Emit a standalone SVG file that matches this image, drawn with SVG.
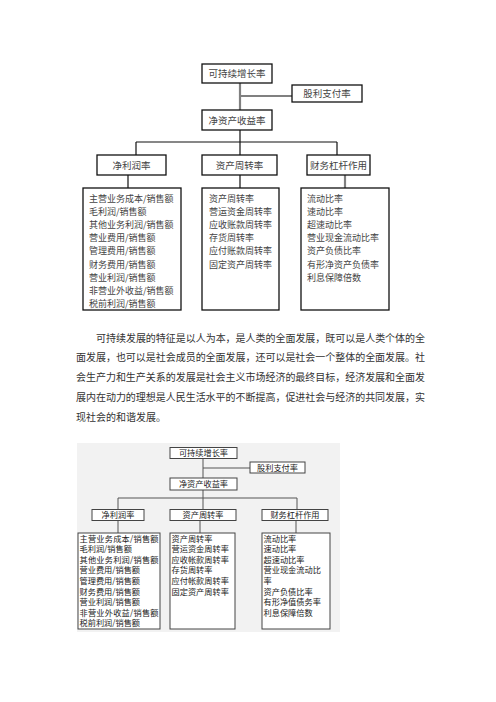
<svg xmlns="http://www.w3.org/2000/svg" width="496" height="702" viewBox="0 0 496 702">
<style>
.bx{fill:#fff;stroke:#111;stroke-width:1.3}
.t{font-family:"Noto Sans CJK SC","Noto Sans CJK JP",sans-serif;font-size:9px;fill:#444}
.tc{text-anchor:middle;font-size:9.5px}
.ln{stroke:#111;stroke-width:1.2;fill:none}
.lg{stroke:#808080;stroke-width:2.2;fill:none}
.p{font-family:"Noto Sans CJK SC","Noto Sans CJK JP",sans-serif;font-size:10px;fill:#333}
.bb{fill:#fff;stroke:#444;stroke-width:1}
.b{font-family:"Noto Sans CJK SC","Noto Sans CJK JP",sans-serif;font-size:8.2px;fill:#222}
.bc{text-anchor:middle}
.bl{stroke:#555;stroke-width:1;fill:none}
</style>
<rect width="496" height="702" fill="#fff"/>

<!-- top diagram connectors -->
<g id="top-connectors">
<path class="lg" d="M240 83V110M240 96H292"/>
<path class="ln" d="M240 130V142M136 142H337M136 142V155M240 142V155M337 142V155"/>
<path class="ln" d="M128 175V188M240 175V188"/>
<path class="lg" d="M345 175V188"/>
</g>

<g id="t-growth"><rect class="bx" x="202" y="64" width="70" height="19"/><text class="t tc" x="237" y="77">可持续增长率</text></g>
<g id="t-payout"><rect class="bx" x="292" y="85" width="70" height="17"/><text class="t tc" x="327" y="97">股利支付率</text></g>
<g id="t-roe"><rect class="bx" x="202" y="110" width="70" height="20"/><text class="t tc" x="237" y="123.5">净资产收益率</text></g>
<g id="t-npm"><rect class="bx" x="97" y="155" width="69" height="20"/><text class="t tc" x="131.5" y="168.5">净利润率</text></g>
<g id="t-ato"><rect class="bx" x="202" y="155" width="75" height="20"/><text class="t tc" x="239.5" y="168.5">资产周转率</text></g>
<g id="t-lev"><rect class="bx" x="307" y="155" width="63" height="20"/><text class="t tc" x="338.5" y="168.5">财务杠杆作用</text></g>

<g id="t-npm-detail"><rect class="bx" x="83" y="188" width="98" height="122"/>
<text class="t" x="89" y="201.5">主营业务成本/销售额</text>
<text class="t" x="89" y="214.7">毛利润/销售额</text>
<text class="t" x="89" y="227.9">其他业务利润/销售额</text>
<text class="t" x="89" y="241.1">营业费用/销售额</text>
<text class="t" x="89" y="254.3">管理费用/销售额</text>
<text class="t" x="89" y="267.5">财务费用/销售额</text>
<text class="t" x="89" y="280.7">营业利润/销售额</text>
<text class="t" x="89" y="293.9">非营业外收益/销售额</text>
<text class="t" x="89" y="307.1">税前利润/销售额</text>
</g>
<g id="t-ato-detail"><rect class="bx" x="202" y="188" width="77" height="122"/>
<text class="t" x="209" y="201.5">资产周转率</text>
<text class="t" x="209" y="214.7">营运资金周转率</text>
<text class="t" x="209" y="227.9">应收账款周转率</text>
<text class="t" x="209" y="241.1">存货周转率</text>
<text class="t" x="209" y="254.3">应付账款周转率</text>
<text class="t" x="209" y="267.5">固定资产周转率</text>
</g>
<g id="t-lev-detail"><rect class="bx" x="301" y="188" width="88" height="122"/>
<text class="t" x="307" y="201.5">流动比率</text>
<text class="t" x="307" y="214.7">速动比率</text>
<text class="t" x="307" y="227.9">超速动比率</text>
<text class="t" x="307" y="241.1">营业现金流动比率</text>
<text class="t" x="307" y="254.3">资产负债比率</text>
<text class="t" x="307" y="267.5">有形净资产负债率</text>
<text class="t" x="307" y="280.7">利息保障倍数</text>
</g>

<!-- paragraph -->
<g id="paragraph">
<text class="p" x="96" y="341.5" textLength="329" lengthAdjust="spacing">可持续发展的特征是以人为本，是人类的全面发展，既可以是人类个体的全</text>
<text class="p" x="76" y="361.3" textLength="349" lengthAdjust="spacing">面发展，也可以是社会成员的全面发展，还可以是社会一个整体的全面发展。社</text>
<text class="p" x="76" y="381.1" textLength="349" lengthAdjust="spacing">会生产力和生产关系的发展是社会主义市场经济的最终目标，经济发展和全面发</text>
<text class="p" x="76" y="400.9" textLength="349" lengthAdjust="spacing">展内在动力的理想是人民生活水平的不断提高，促进社会与经济的共同发展，实</text>
<text class="p" x="76" y="420.7">现社会的和谐发展。</text>
</g>

<!-- bottom diagram -->
<rect id="bottom-bg" x="77" y="443" width="263" height="189" fill="#f2f2f2"/>
<g id="bottom-connectors">
<path class="bl" d="M203 458V478M203 468H250M203 490V498M118 498H297M118 498V510M203 498V510M297 498V510M118 521V533M200 521V533M296 521V533"/>
</g>
<g id="b-growth"><rect class="bb" x="170" y="447.5" width="67" height="11"/><text class="b bc" x="203.5" y="456">可持续增长率</text></g>
<g id="b-payout"><rect class="bb" x="250" y="462" width="55" height="11"/><text class="b bc" x="277.5" y="470.5">股利支付率</text></g>
<g id="b-roe"><rect class="bb" x="170" y="478" width="67" height="12"/><text class="b bc" x="203.5" y="487">净资产收益率</text></g>
<g id="b-npm"><rect class="bb" x="92" y="509.5" width="52" height="11"/><text class="b bc" x="118" y="518">净利润率</text></g>
<g id="b-ato"><rect class="bb" x="170" y="509.5" width="66" height="11"/><text class="b bc" x="203" y="518">资产周转率</text></g>
<g id="b-lev"><rect class="bb" x="262" y="509.5" width="66" height="11"/><text class="b bc" x="295" y="518">财务杠杆作用</text></g>

<g id="b-npm-detail"><rect class="bb" x="78" y="533" width="82" height="96"/>
<text class="b" x="79.5" y="541.5" textLength="79" lengthAdjust="spacing">主营业务成本/销售额</text>
<text class="b" x="79.5" y="552.1">毛利润/销售额</text>
<text class="b" x="79.5" y="562.7" textLength="79" lengthAdjust="spacing">其他业务利润/销售额</text>
<text class="b" x="79.5" y="573.3">营业费用/销售额</text>
<text class="b" x="79.5" y="583.9">管理费用/销售额</text>
<text class="b" x="79.5" y="594.5">财务费用/销售额</text>
<text class="b" x="79.5" y="605.1">营业利润/销售额</text>
<text class="b" x="79.5" y="615.7" textLength="79" lengthAdjust="spacing">非营业外收益/销售额</text>
<text class="b" x="79.5" y="626.3">税前利润/销售额</text>
</g>
<g id="b-ato-detail"><rect class="bb" x="170" y="533" width="65" height="96"/>
<text class="b" x="171.5" y="541.5">资产周转率</text>
<text class="b" x="171.5" y="552.1">营运资金周转率</text>
<text class="b" x="171.5" y="562.7">应收帐款周转率</text>
<text class="b" x="171.5" y="573.3">存货周转率</text>
<text class="b" x="171.5" y="583.9">应付帐款周转率</text>
<text class="b" x="171.5" y="594.5">固定资产周转率</text>
</g>
<g id="b-lev-detail"><rect class="bb" x="262" y="533" width="68" height="96"/>
<text class="b" x="263.5" y="541.5">流动比率</text>
<text class="b" x="263.5" y="552.1">速动比率</text>
<text class="b" x="263.5" y="562.7">超速动比率</text>
<text class="b" x="263.5" y="573.3">营业现金流动比</text>
<text class="b" x="263.5" y="583.9">率</text>
<text class="b" x="263.5" y="594.5">资产负债比率</text>
<text class="b" x="263.5" y="605.1">有形净值债务率</text>
<text class="b" x="263.5" y="615.7">利息保障倍数</text>
</g>
</svg>
